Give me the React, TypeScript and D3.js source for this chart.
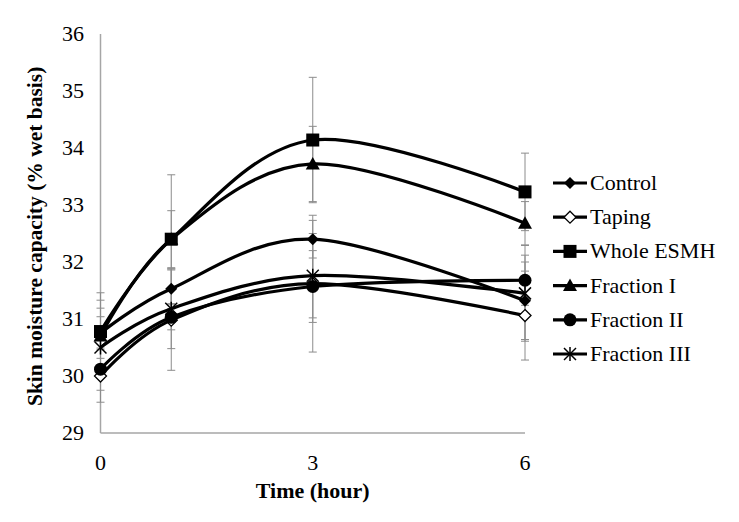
import React from "react";
import * as d3 from "d3";

const times = [0, 1, 3, 6];
const seriesNames = ["Control", "Taping", "Whole ESMH", "Fraction I", "Fraction II", "Fraction III"];
const control = [30.75, 31.53, 32.4, 31.32];
const taping = [30.0, 30.98, 31.62, 31.06];
const wholeESMH = [30.78, 32.4, 34.14, 33.23];
const fractionI = [30.7, 32.4, 33.72, 32.68];
const fractionII = [30.12, 31.03, 31.57, 31.68];
const fractionIII = [30.5, 31.18, 31.76, 31.45];
const controlErr = [0.44, 0.35, 0.33, 0.68];
const tapingErr = [0.46, 0.88, 1.2, 0.78];
const wholeErr = [0.68, 1.13, 1.1, 0.68];
const fracIErr = [0.63, 0.5, 0.66, 0.38];
const fracIIErr = [0.37, 0.22, 0.63, 0.44];
const fracIIIErr = [0.54, 0.7, 0.74, 0.84];
const yTicks = [29, 30, 31, 32, 33, 34, 35, 36];
const xTicks = [0, 3, 6];
const markers = ["diamond", "diamondOpen", "square", "triangle", "circle", "star"];

const allValues = [control, taping, wholeESMH, fractionI, fractionII, fractionIII];
const allErr = [controlErr, tapingErr, wholeErr, fracIErr, fracIIErr, fracIIIErr];

const FONT = "'Liberation Serif', 'Times New Roman', serif";

function Marker({ type, x, y }: { type: string; x: number; y: number }) {
  switch (type) {
    case "diamond":
      return <path d={`M${x},${y - 6}L${x + 6},${y}L${x},${y + 6}L${x - 6},${y}Z`} fill="#000" />;
    case "diamondOpen":
      return <path d={`M${x},${y - 6}L${x + 6},${y}L${x},${y + 6}L${x - 6},${y}Z`} fill="#fff" stroke="#000" strokeWidth={1.3} />;
    case "square":
      return <rect x={x - 6.5} y={y - 6.5} width={13} height={13} fill="#000" />;
    case "triangle":
      return <path d={`M${x},${y - 7}L${x + 7},${y + 5.5}L${x - 7},${y + 5.5}Z`} fill="#000" />;
    case "circle":
      return <circle cx={x} cy={y} r={6.5} fill="#000" />;
    case "star":
      return (
        <g stroke="#000" strokeWidth={1.5}>
          <line x1={x - 6} y1={y - 6} x2={x + 6} y2={y + 6} />
          <line x1={x - 6} y1={y + 6} x2={x + 6} y2={y - 6} />
          <line x1={x} y1={y - 7} x2={x} y2={y + 7} />
        </g>
      );
    default:
      return null;
  }
}

export default function App() {
  const W = 739, H = 522;
  const x = d3.scaleLinear().domain([0, 6]).range([100.5, 525]);
  const y = d3.scaleLinear().domain([29, 36]).range([433, 34]);
  const line = d3
    .line<number>()
    .x((_, i) => x(times[i]))
    .y((d) => y(d))
    .curve(d3.curveCardinal.tension(0));

  const legendX = 553;
  const legendY0 = 183;
  const legendDy = 34.2;

  return (
    <svg width={W} height={H} style={{ position: "absolute", left: 0, top: 0, background: "#fff" }}>
      <rect width={W} height={H} fill="#fff" />
      {/* axes */}
      <line x1={x(0)} y1={y(36)} x2={x(0)} y2={y(29)} stroke="#a6a6a6" strokeWidth={1.5} />
      <line x1={x(0)} y1={y(29)} x2={x(6)} y2={y(29)} stroke="#a6a6a6" strokeWidth={1.5} />
      {yTicks.map((t) => (
        <text key={t} x={84} y={y(t) + 7} textAnchor="end" fontFamily={FONT} fontSize={22}>
          {t}
        </text>
      ))}
      {xTicks.map((t) => (
        <text key={t} x={x(t)} y={470} textAnchor="middle" fontFamily={FONT} fontSize={22}>
          {t}
        </text>
      ))}
      <text x={x(3)} y={498} textAnchor="middle" fontFamily={FONT} fontSize={22} fontWeight="bold">
        Time (hour)
      </text>
      <text
        transform={`translate(42,${y(32.45)}) rotate(-90)`}
        textAnchor="middle"
        fontFamily={FONT}
        fontSize={21.5}
        fontWeight="bold"
      >
        Skin moisture capacity (% wet basis)
      </text>
      {/* error bars */}
      {allValues.map((vals, si) => (
        <g key={"e" + si} stroke="#8c8c8c" strokeWidth={1}>
          {vals.map((v, i) => {
            const e = allErr[si][i];
            const cx = x(times[i]);
            return (
              <g key={i}>
                <line x1={cx} x2={cx} y1={y(v + e)} y2={y(v - e)} />
                <line x1={cx - 4} x2={cx + 4} y1={y(v + e)} y2={y(v + e)} />
                <line x1={cx - 4} x2={cx + 4} y1={y(v - e)} y2={y(v - e)} />
              </g>
            );
          })}
        </g>
      ))}
      {/* lines */}
      {allValues.map((vals, si) => (
        <path key={"l" + si} d={line(vals) || ""} fill="none" stroke="#000" strokeWidth={3.2} />
      ))}
      {/* markers */}
      {allValues.map((vals, si) => (
        <g key={"m" + si}>
          {vals.map((v, i) => (
            <Marker key={i} type={markers[si]} x={x(times[i])} y={y(v)} />
          ))}
        </g>
      ))}
      {/* legend */}
      {seriesNames.map((name, i) => {
        const ly = legendY0 + i * legendDy;
        return (
          <g key={name}>
            <line x1={legendX} x2={legendX + 34} y1={ly} y2={ly} stroke="#000" strokeWidth={3.2} />
            <Marker type={markers[i]} x={legendX + 17} y={ly} />
            <text x={legendX + 37} y={ly + 7} fontFamily={FONT} fontSize={22}>
              {name}
            </text>
          </g>
        );
      })}
    </svg>
  );
}
